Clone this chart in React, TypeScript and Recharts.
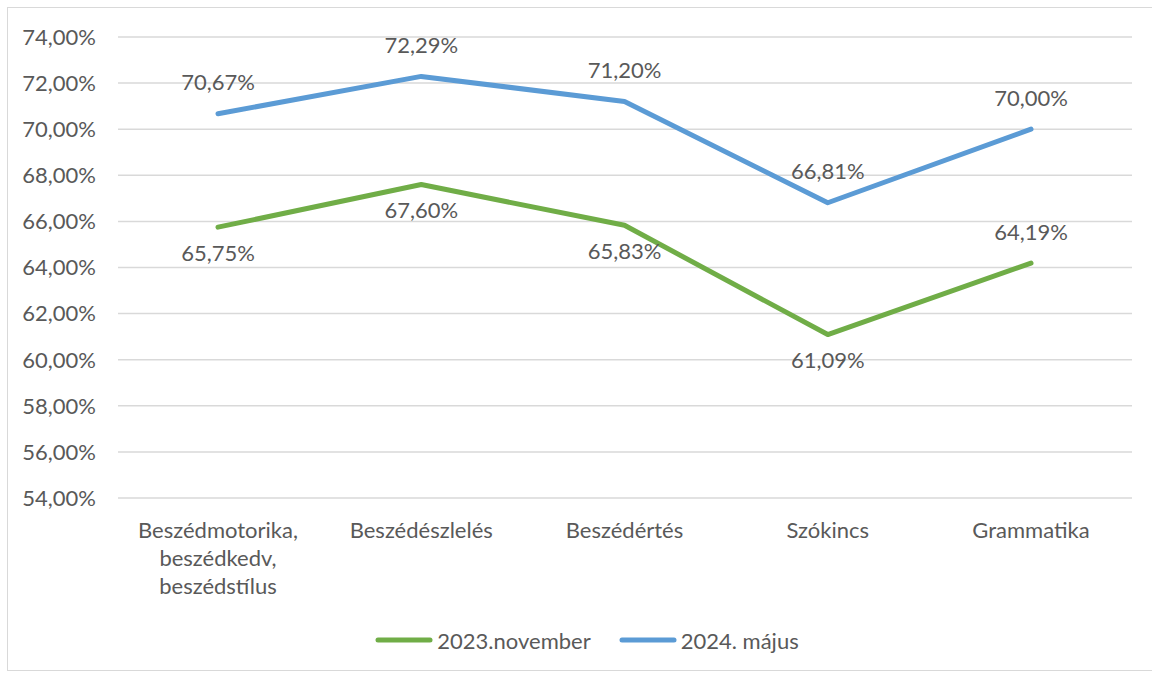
import React from 'react';
import { CartesianGrid, LabelList, Legend, Line, LineChart, XAxis, YAxis } from 'recharts';

const CATEGORIES = ['Beszédmotorika, beszédkedv, beszédstílus', 'Beszédészlelés', 'Beszédértés', 'Szókincs', 'Grammatika'];
const NOV_2023 = [65.75, 67.6, 65.83, 61.09, 64.19];
const MAY_2024 = [70.67, 72.29, 71.2, 66.81, 70.0];
const Y_TICKS = [54, 56, 58, 60, 62, 64, 66, 68, 70, 72, 74];
const NOV_LABEL_SIDE = ['below', 'below', 'below', 'below', 'above'];
const MAY_LABEL_SIDE = ['above', 'above', 'above', 'above', 'above'];

const GREEN = '#70AD47';
const BLUE = '#5B9BD5';
const TEXT = '#595959';
const FONT = 'Lato, "Open Sans", sans-serif';
const FS = 22;

const data = CATEGORIES.map((name, i) => ({ name, nov: NOV_2023[i], may: MAY_2024[i] }));

const pct = (v: number) => v.toFixed(2).replace('.', ',') + '%';

const XTick = (props: any) => {
  const { x, y, payload } = props;
  const lines = String(payload.value).split(/(?<=,)\s/);
  return (
    <g>
      {lines.map((l: string, i: number) => (
        <text key={i} x={x} y={y + 32 + i * 28} dy="0.35em" textAnchor="middle" fill={TEXT} fontSize={FS} fontFamily={FONT}>
          {l}
        </text>
      ))}
    </g>
  );
};

const makeLabel = (sides: string[]) => (props: any) => {
  const { x, y, value, index } = props;
  const cy = sides[index] === 'above' ? y - 31 : y + 26;
  return (
    <text x={x} y={cy} dy="0.35em" textAnchor="middle" fill={TEXT} fontSize={FS} fontFamily={FONT}>
      {pct(value)}
    </text>
  );
};

const LegendContent = () => {
  const items = [
    { label: '2023.november', color: GREEN },
    { label: '2024. május', color: BLUE },
  ];
  return (
    <div style={{ display: 'flex', justifyContent: 'center', alignItems: 'center', height: 64, paddingLeft: 34, boxSizing: 'border-box', fontFamily: FONT, fontSize: FS, color: TEXT }}>
      {items.map((it) => (
        <div key={it.label} style={{ display: 'flex', alignItems: 'center', margin: '0 14px' }}>
          <svg width={58} height={10} style={{ marginRight: 4 }}>
            <line x1={3} y1={5} x2={55} y2={5} stroke={it.color} strokeWidth={5} strokeLinecap="round" />
          </svg>
          <span>{it.label}</span>
        </div>
      ))}
    </div>
  );
};

export default function App() {
  return (
    <div style={{ position: 'fixed', left: 0, top: 0, width: 1152, height: 673, overflow: 'hidden', background: '#fff' }}>
      <div style={{ position: 'absolute', left: 7, top: 7, width: 1150, height: 664, border: '1px solid #d9d9d9', boxSizing: 'border-box', overflow: 'hidden' }}>
        <LineChart width={1144} height={662} data={data} margin={{ top: 29, right: 20, bottom: 0, left: 0 }}>
          <CartesianGrid vertical={false} stroke="#d9d9d9" strokeWidth={1.5} />
          <XAxis dataKey="name" axisLine={false} tickLine={false} tickSize={0} tickMargin={0} height={110} interval={0} padding={{ left: 100, right: 101 }} tick={<XTick />} />
          <YAxis
            domain={[54, 74]}
            ticks={Y_TICKS}
            width={110}
            axisLine={false}
            tickLine={false}
            tickSize={0}
            tickMargin={22}
            tickFormatter={pct}
            tick={{ fill: TEXT, fontSize: FS, fontFamily: FONT }}
          />
          <Legend verticalAlign="bottom" height={62} content={<LegendContent />} />
          <Line dataKey="nov" name="2023.november" stroke={GREEN} strokeWidth={5} strokeLinecap="round" strokeLinejoin="round" dot={false} isAnimationActive={false}>
            <LabelList dataKey="nov" content={makeLabel(NOV_LABEL_SIDE)} />
          </Line>
          <Line dataKey="may" name="2024. május" stroke={BLUE} strokeWidth={5} strokeLinecap="round" strokeLinejoin="round" dot={false} isAnimationActive={false}>
            <LabelList dataKey="may" content={makeLabel(MAY_LABEL_SIDE)} />
          </Line>
        </LineChart>
      </div>
    </div>
  );
}
